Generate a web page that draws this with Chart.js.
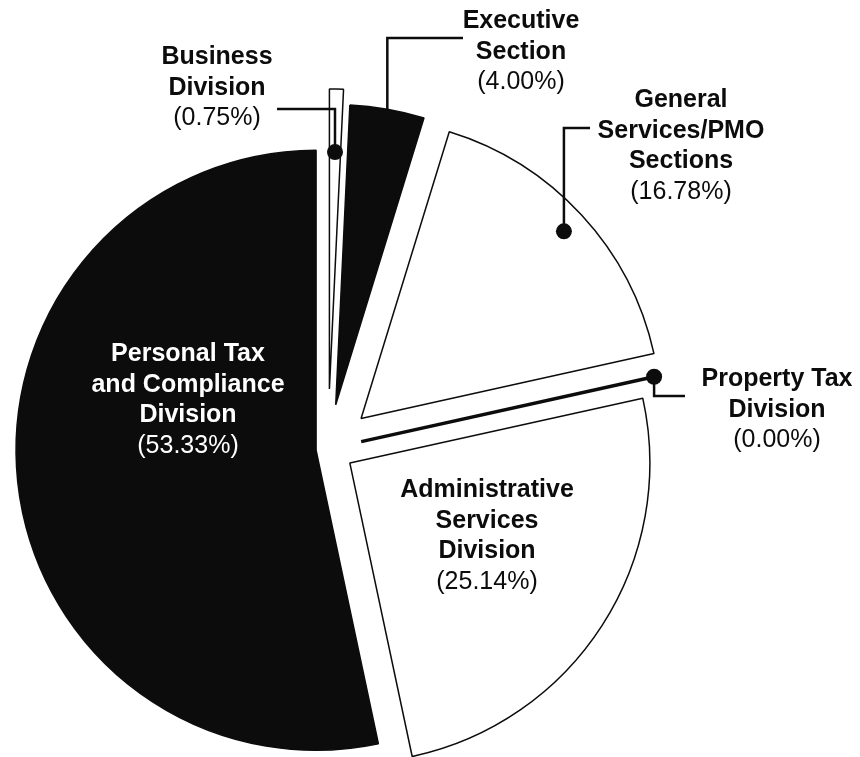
<!DOCTYPE html>
<html>
<head>
<meta charset="utf-8">
<script src="https://cdn.jsdelivr.net/npm/chart.js@4/dist/chart.umd.min.js"></script>
<style>
  html, body { margin: 0; padding: 0; background: #fff; }
</style>
</head>
<body>
<canvas id="pie" width="860" height="757"></canvas>
<script>
(function() {
  // --- Data ---
  const divisions = [
    'Business Division',
    'Executive Section',
    'General Services/PMO Sections',
    'Property Tax Division',
    'Administrative Services Division',
    'Personal Tax and Compliance Division'
  ];
  // the name as the chart breaks it over lines
  const labelLines = [
    ['Business', 'Division'],
    ['Executive', 'Section'],
    ['General', 'Services/PMO', 'Sections'],
    ['Property Tax', 'Division'],
    ['Administrative', 'Services', 'Division'],
    ['Personal Tax', 'and Compliance', 'Division']
  ];
  const shares = [0.75, 4.00, 16.78, 0.00, 25.14, 53.33];

  // --- Look ---
  const INK = '#0c0c0c';
  const fills = ['#ffffff', INK, '#ffffff', INK, '#ffffff', INK];
  const explode = [60, 45, 45, 34, 26, 12];   // px each slice is pulled out
  const RADIUS = 300;
  const FONT = '"Liberation Sans", Arial, Helvetica, sans-serif';
  const LINE_H = 30.5;

  // where each caption sits, and how its leader runs
  // frac: point along the slice's middle the leader starts from
  const captions = [
    { x: 217, y: 64,  color: INK,    frac: 0.79, elbowY: 109, toX: 277, dot: true },
    { x: 521, y: 28,  color: INK,    frac: 1.0,  elbowY: 38,  toX: 463, dot: false },
    { x: 681, y: 107, color: INK,    frac: 0.92, elbowY: 128, toX: 590, dot: true },
    { x: 777, y: 386, color: INK,    frac: 1.0,  elbowY: 396, toX: 685, dot: true },
    { x: 487, y: 497, color: INK },
    { x: 188, y: 361, color: '#ffffff' }
  ];

  // pull slices out along their middle angle
  const explodePlugin = {
    id: 'explode',
    beforeDatasetsDraw(chart) {
      const area = chart.chartArea;
      const cx = (area.left + area.right) / 2;
      const cy = (area.top + area.bottom) / 2;
      chart.getDatasetMeta(0).data.forEach((arc, i) => {
        const mid = (arc.startAngle + arc.endAngle) / 2;
        arc.x = cx + Math.cos(mid) * explode[i];
        arc.y = cy + Math.sin(mid) * explode[i];
      });
    }
  };

  // zero slice spoke, leader lines, dots and captions
  const notesPlugin = {
    id: 'notes',
    afterDatasetsDraw(chart) {
      const ctx = chart.ctx;
      const arcs = chart.getDatasetMeta(0).data;
      ctx.save();

      // a 0% share has no area, the chart still shows it as a heavy spoke
      arcs.forEach((arc, i) => {
        if (shares[i] !== 0) return;
        ctx.beginPath();
        ctx.moveTo(arc.x, arc.y);
        ctx.lineTo(arc.x + Math.cos(arc.startAngle) * arc.outerRadius,
                   arc.y + Math.sin(arc.startAngle) * arc.outerRadius);
        ctx.lineWidth = 3.5;
        ctx.strokeStyle = INK;
        ctx.stroke();
      });

      arcs.forEach((arc, i) => {
        const c = captions[i];
        if (c.frac === undefined) return;
        const mid = (arc.startAngle + arc.endAngle) / 2;
        const ax = arc.x + Math.cos(mid) * arc.outerRadius * c.frac;
        const ay = arc.y + Math.sin(mid) * arc.outerRadius * c.frac;
        ctx.beginPath();
        ctx.moveTo(ax, ay);
        ctx.lineTo(ax, c.elbowY);
        ctx.lineTo(c.toX, c.elbowY);
        ctx.lineWidth = 2.5;
        ctx.strokeStyle = INK;
        ctx.lineJoin = 'miter';
        ctx.stroke();
        if (c.dot) {
          ctx.beginPath();
          ctx.arc(ax, ay, 8, 0, Math.PI * 2);
          ctx.fillStyle = INK;
          ctx.fill();
        }
      });

      ctx.textAlign = 'center';
      ctx.textBaseline = 'alphabetic';
      labelLines.forEach((lines, i) => {
        const c = captions[i];
        ctx.fillStyle = c.color;
        ctx.font = 'bold 25px ' + FONT;
        lines.forEach((t, k) => ctx.fillText(t, c.x, c.y + k * LINE_H));
        ctx.font = '25px ' + FONT;
        ctx.fillText('(' + shares[i].toFixed(2) + '%)', c.x, c.y + lines.length * LINE_H);
      });
      ctx.restore();
    }
  };

  new Chart(document.getElementById('pie'), {
    type: 'pie',
    data: {
      labels: divisions,
      datasets: [{
        data: shares,
        backgroundColor: fills,
        borderColor: INK,
        borderWidth: 1.5,
        hoverOffset: 0,
        radius: RADIUS
      }]
    },
    options: {
      responsive: false,
      animation: false,
      events: [],
      layout: { padding: { left: 0, right: 204, top: 141, bottom: 0 } },
      plugins: {
        legend: { display: false },
        tooltip: { enabled: false }
      }
    },
    plugins: [explodePlugin, notesPlugin]
  });
})();
</script>
</body>
</html>
